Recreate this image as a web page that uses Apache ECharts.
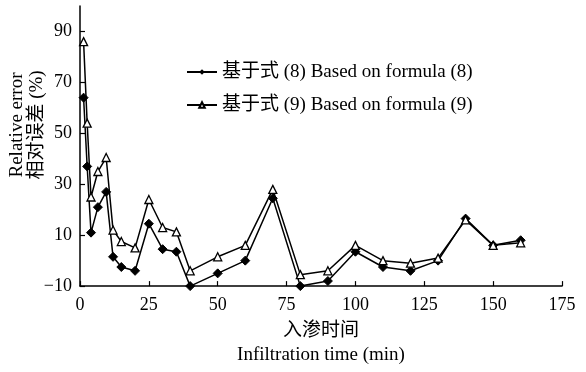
<!DOCTYPE html>
<html>
<head>
<meta charset="utf-8">
<script src="https://cdn.jsdelivr.net/npm/echarts@6/dist/echarts.min.js"></script>
<style>
html,body{margin:0;padding:0;background:#fff;}
#chart{width:586px;height:372px;}
</style>
</head>
<body>
<div id="chart"></div>
<script>
var times = [1.3, 2.6, 4, 6.5, 9.5, 12, 15, 20, 25, 30, 35, 40, 50, 60, 70, 80, 90, 100, 110, 120, 130, 140, 150, 160];
var formula8 = [64, 37, 11, 21, 27, 1.5, -2.5, -4, 14.5, 4.5, 3.5, -10, -5, 0, 24.5, -10, -8, 3.5, -2.5, -4, 0, 16.5, 6, 8];
var formula9 = [86, 54, 25, 35, 40.5, 12, 7.5, 5, 24, 13, 11.3, -4, 1.5, 6, 28, -5.5, -4, 6, 0, -1, 1, 16, 6, 7];
var seriesNames = ['基于式 (8) Based on formula (8)', '基于式 (9) Based on formula (9)'];
var yTicks = [-10, 10, 30, 50, 70, 90];
var xTicks = [0, 25, 50, 75, 100, 125, 150, 175];
var xNameLines = ['入渗时间', 'Infiltration time (min)'];
var yNameLines = ['Relative error', '相对误差 (%)'];

function pairs(xs, ys) { return xs.map(function (x, i) { return [x, ys[i]]; }); }

var FONT = "'Liberation Serif', 'Noto Sans CJK SC', serif";
var chart = echarts.init(document.getElementById('chart'), null, {renderer: 'canvas'});
chart.setOption({
  animation: false,
  backgroundColor: '#fff',
  grid: {left: 80, right: 24, top: 6, bottom: 79, containLabel: false},
  legend: {
    orient: 'vertical', left: 181, top: 57, itemGap: 13,
    itemWidth: 30, itemHeight: 7,
    textStyle: {fontFamily: FONT, fontSize: 19, color: '#000', lineHeight: 20},
    data: seriesNames
  },
  xAxis: {
    type: 'value', min: 0, max: 175, interval: 25,
    name: xNameLines.join('\n'), nameLocation: 'middle', nameGap: 29,
    nameTextStyle: {fontFamily: FONT, fontSize: 19, color: '#000', lineHeight: 24},
    axisLine: {show: true, onZero: false, lineStyle: {color: '#000', width: 1.5}},
    axisTick: {show: true, inside: true, length: 5, lineStyle: {color: '#000', width: 1.2}, customValues: xTicks},
    axisLabel: {fontFamily: FONT, fontSize: 18, color: '#000', margin: 10, customValues: xTicks},
    splitLine: {show: false}
  },
  yAxis: {
    type: 'value', min: -10, max: 100, interval: 20,
    axisLine: {show: true, onZero: false, lineStyle: {color: '#000', width: 1.5}},
    axisTick: {show: true, inside: true, length: 5, lineStyle: {color: '#000', width: 1.2}, customValues: yTicks},
    axisLabel: {fontFamily: FONT, fontSize: 18, color: '#000', margin: 8,
      customValues: yTicks,
      formatter: function (v) { return v < 0 ? '\u2212' + Math.abs(v) : String(v); }},
    splitLine: {show: false}
  },
  graphic: [
    {type: 'text', x: 17, y: 125, rotation: Math.PI / 2,
     style: {text: yNameLines[0], fontFamily: FONT, fontSize: 19, fill: '#000', textAlign: 'center', textVerticalAlign: 'middle'}},
    {type: 'text', x: 37, y: 125, rotation: Math.PI / 2,
     style: {text: yNameLines[1], fontFamily: FONT, fontSize: 19, fill: '#000', textAlign: 'center', textVerticalAlign: 'middle'}}
  ],
  series: [
    {name: seriesNames[0], type: 'line', data: pairs(times, formula8),
     symbol: 'diamond', symbolSize: 9,
     lineStyle: {color: '#000', width: 1.5},
     itemStyle: {color: '#000', borderColor: '#000'}},
    {name: seriesNames[1], type: 'line', data: pairs(times, formula9),
     symbol: 'triangle', symbolSize: 8,
     lineStyle: {color: '#000', width: 1.5},
     itemStyle: {color: '#fff', borderColor: '#000', borderWidth: 1.3}}
  ]
});
</script>
</body>
</html>
